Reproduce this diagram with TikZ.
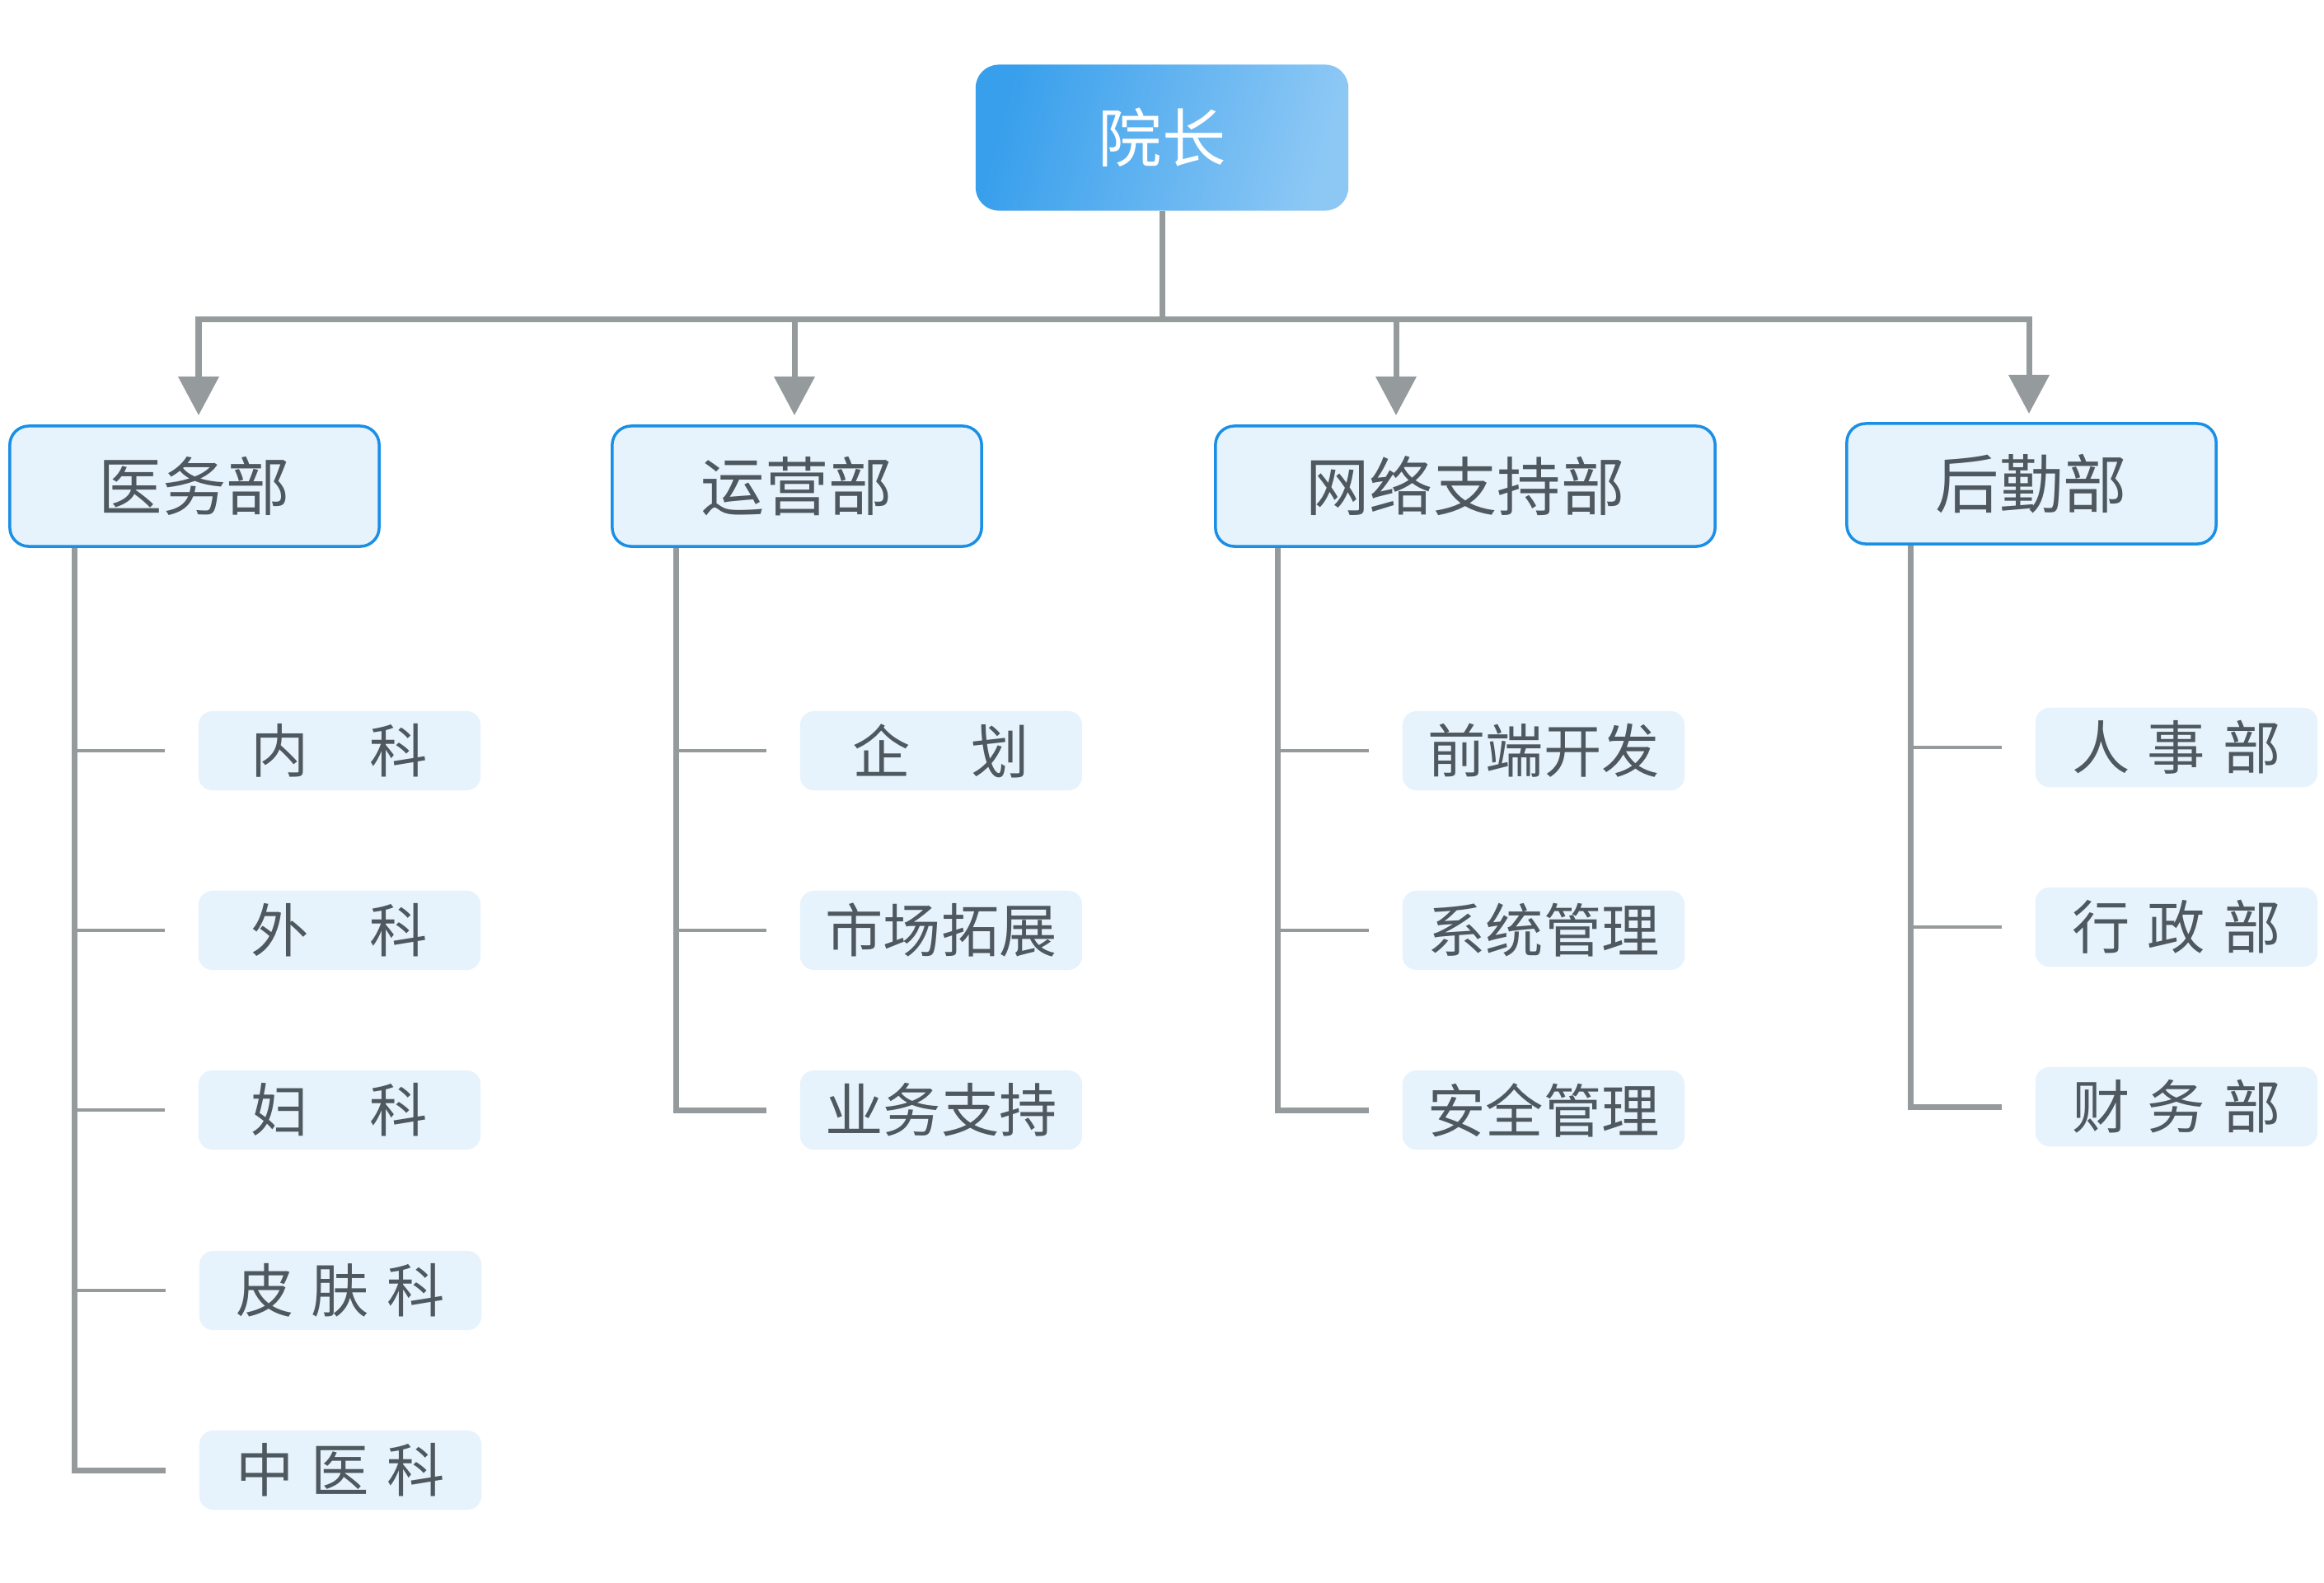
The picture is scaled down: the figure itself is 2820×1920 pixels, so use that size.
\documentclass[tikz,border=0pt]{standalone}
\usepackage{fontspec}
\newfontfamily\cjk{Noto Sans CJK SC}
\usetikzlibrary{arrows.meta,calc}
\definecolor{linegray}{HTML}{959A9D}
\definecolor{deptborder}{HTML}{1A8FE6}
\definecolor{lightfill}{HTML}{E6F2FC}
\definecolor{txtgray}{HTML}{4E585E}
\definecolor{topA}{HTML}{389FEC}
\definecolor{topB}{HTML}{8DC8F5}
\begin{document}
\begin{tikzpicture}[x=0.01cm,y=-0.01cm,
  topbox/.style={rounded corners=0.28cm, minimum width=4.52cm, minimum height=1.77cm, inner sep=0pt,
    font=\cjk\fontsize{22pt}{22pt}\selectfont, text=white,
    left color=topA, middle color=topA, right color=topB, shading angle=75},
  deptbox/.style={draw=deptborder, line width=0.035cm, fill=lightfill, rounded corners=0.23cm,
    minimum height=1.46cm, inner sep=0pt, text=txtgray, font=\cjk\fontsize{22pt}{22pt}\selectfont},
  childbox/.style={fill=lightfill, rounded corners=0.17cm, minimum height=0.96cm, minimum width=3.42cm,
    inner sep=0pt, text=txtgray, font=\cjk\fontsize{20pt}{20pt}\selectfont},
  conn/.style={draw=linegray, line width=0.07cm},
  tickline/.style={draw=linegray, line width=0.045cm},
  arr/.style={-{Triangle[width=0.48cm,length=0.47cm]}}
]
\fill[white] (0,0) rectangle (2820,1920);
\useasboundingbox (0,0) rectangle (2820,1920);

% top
\node[topbox] (top) at (1410,167) {院长};

% departments
\node[deptbox, minimum width=4.48cm] (d1) at (236,590) {医务部};
\node[deptbox, minimum width=4.48cm] (d2) at (967,590) {运营部};
\node[deptbox, minimum width=6.06cm] (d3) at (1778,590) {网络支持部};
\node[deptbox, minimum width=4.48cm] (d4) at (2465,587) {后勤部};

% bus and arrows
\coordinate (bus) at (1410,387);
\coordinate (a1) at (241,504);
\coordinate (a2) at (964,504);
\coordinate (a3) at (1694,504);
\coordinate (a4) at (2462,502);
\draw[conn] (top.south) -- (bus);
\draw[conn,arr] (bus) -| (a1);
\draw[conn,arr] (bus) -| (a2);
\draw[conn,arr] (bus) -| (a3);
\draw[conn,arr] (bus) -| (a4);

% children column 1
\node[childbox] (c11) at (412,911) {内\kern1.05em科};
\node[childbox] (c12) at (412,1129) {外\kern1.05em科};
\node[childbox] (c13) at (412,1347) {妇\kern1.05em科};
\node[childbox] (c14) at (413,1566) {皮\kern0.3em肤\kern0.3em科};
\node[childbox] (c15) at (413,1784) {中\kern0.3em医\kern0.3em科};

% column 2
\node[childbox] (c21) at (1142,911) {企\kern1.05em划};
\node[childbox] (c22) at (1142,1129) {市场拓展};
\node[childbox] (c23) at (1142,1347) {业务支持};

% column 3
\node[childbox] (c31) at (1873,911) {前端开发};
\node[childbox] (c32) at (1873,1129) {系统管理};
\node[childbox] (c33) at (1873,1347) {安全管理};

% column 4
\node[childbox] (c41) at (2641,907) {人\kern0.3em事\kern0.3em部};
\node[childbox] (c42) at (2641,1125) {行\kern0.3em政\kern0.3em部};
\node[childbox] (c43) at (2641,1343) {财\kern0.3em务\kern0.3em部};

% vertical trunks
\coordinate (v1) at ([xshift=0.8cm]d1.south west);
\coordinate (v2) at ([xshift=0.79cm]d2.south west);
\coordinate (v3) at ([xshift=0.77cm]d3.south west);
\coordinate (v4) at ([xshift=0.79cm]d4.south west);

\draw[conn] (v1) |- ([xshift=-0.4cm]c15.west);
\foreach \c in {c11,c12,c13,c14}
  \draw[tickline] (v1 |- \c.west) -- ([xshift=-0.4cm]\c.west);

\draw[conn] (v2) |- ([xshift=-0.4cm]c23.west);
\foreach \c in {c21,c22}
  \draw[tickline] (v2 |- \c.west) -- ([xshift=-0.4cm]\c.west);

\draw[conn] (v3) |- ([xshift=-0.4cm]c33.west);
\foreach \c in {c31,c32}
  \draw[tickline] (v3 |- \c.west) -- ([xshift=-0.4cm]\c.west);

\draw[conn] (v4) |- ([xshift=-0.4cm]c43.west);
\foreach \c in {c41,c42}
  \draw[tickline] (v4 |- \c.west) -- ([xshift=-0.4cm]\c.west);
\end{tikzpicture}
\end{document}
